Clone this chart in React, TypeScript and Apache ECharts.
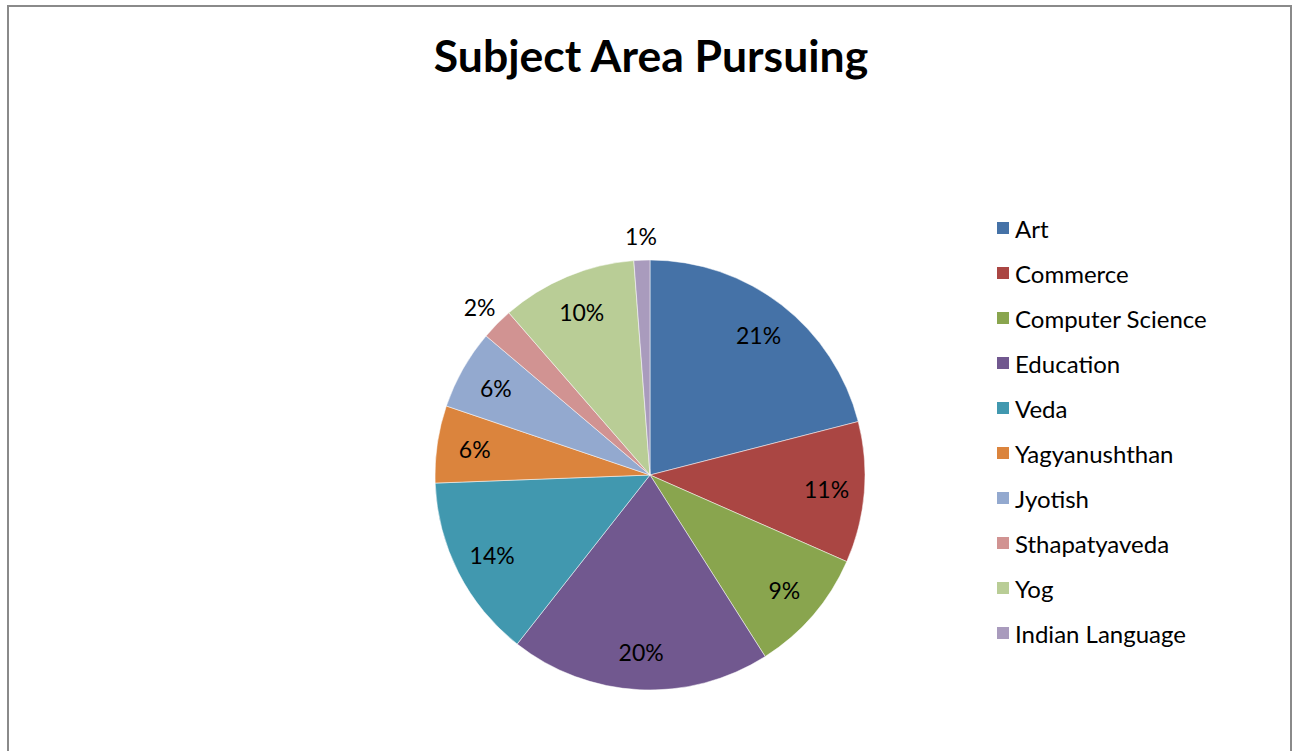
import React, { useEffect, useRef } from "react";
import * as echarts from "echarts";

const categories = [
  "Art",
  "Commerce",
  "Computer Science",
  "Education",
  "Veda",
  "Yagyanushthan",
  "Jyotish",
  "Sthapatyaveda",
  "Yog",
  "Indian Language",
];
const values = [21, 10.6, 9.4, 19.6, 13.8, 5.8, 6.0, 2.4, 10.2, 1.2];
const colors = [
  "#4572A7",
  "#AA4643",
  "#89A54E",
  "#71588F",
  "#4198AF",
  "#DB843D",
  "#93A9CF",
  "#D19392",
  "#B9CD96",
  "#A99BBD",
];
const outsideLabels = ["Sthapatyaveda", "Indian Language"];

const FONT = "Lato";

export default function App() {
  const ref = useRef<HTMLDivElement>(null);
  useEffect(() => {
    if (!ref.current) return;
    const chart = echarts.init(ref.current, undefined, { renderer: "svg" });
    const R = 215;
    const center = [650, 475];
    const fmt = (p: any) => Math.round(p.percent) + "%";
    const baseData = categories.map((name, i) => ({
      name,
      value: values[i],
      itemStyle: { color: colors[i] },
    }));
    const labelStyle = {
      show: true,
      position: "inside",
      formatter: fmt,
      fontFamily: FONT,
      fontSize: 23,
      color: "#000",
    };
    chart.setOption({
      animation: false,
      backgroundColor: "#ffffff",
      title: {
        text: "Subject Area Pursuing",
        left: 646,
        top: 27,
        textAlign: "center",
        textStyle: {
          fontFamily: FONT,
          fontWeight: "bold",
          fontSize: 44.5,
          color: "#000",
        },
      },
      legend: {
        orient: "vertical",
        left: 990,
        top: 211,
        itemWidth: 14,
        itemHeight: 14,
        itemGap: 21,
        icon: "rect",
        data: categories,
        textStyle: {
          fontFamily: FONT,
          fontSize: 24,
          color: "#000",
          lineHeight: 24,
        },
      },
      graphic: [
        {
          type: "rect",
          shape: { x: 8, y: 6, width: 1283, height: 800 },
          style: { fill: "none", stroke: "#8a8a8a", lineWidth: 2 },
          silent: true,
        },
      ],
      series: [
        {
          type: "pie",
          center,
          radius: [0, R],
          startAngle: 90,
          clockwise: true,
          silent: true,
          label: { show: false },
          labelLine: { show: false },
          itemStyle: { borderColor: "#ffffff", borderWidth: 0.5 },
          data: baseData,
        },
        {
          type: "pie",
          center,
          radius: [R * 0.62, R],
          startAngle: 90,
          clockwise: true,
          silent: true,
          legendHoverLink: false,
          itemStyle: { color: "transparent" },
          label: labelStyle,
          labelLine: { show: false },
          data: categories.map((name, i) => ({
            name,
            value: values[i],
            itemStyle: { color: "transparent" },
            label: { show: !outsideLabels.includes(name) },
          })),
        },
        {
          type: "pie",
          center,
          radius: [R, R * 1.2],
          startAngle: 90,
          clockwise: true,
          silent: true,
          legendHoverLink: false,
          itemStyle: { color: "transparent" },
          label: labelStyle,
          labelLine: { show: false },
          data: categories.map((name, i) => ({
            name,
            value: values[i],
            itemStyle: { color: "transparent" },
            label: { show: outsideLabels.includes(name) },
          })),
        },
      ],
    });
    return () => chart.dispose();
  }, []);
  return (
    <div
      ref={ref}
      style={{ position: "fixed", left: 0, top: 0, width: 1300, height: 751 }}
    />
  );
}
